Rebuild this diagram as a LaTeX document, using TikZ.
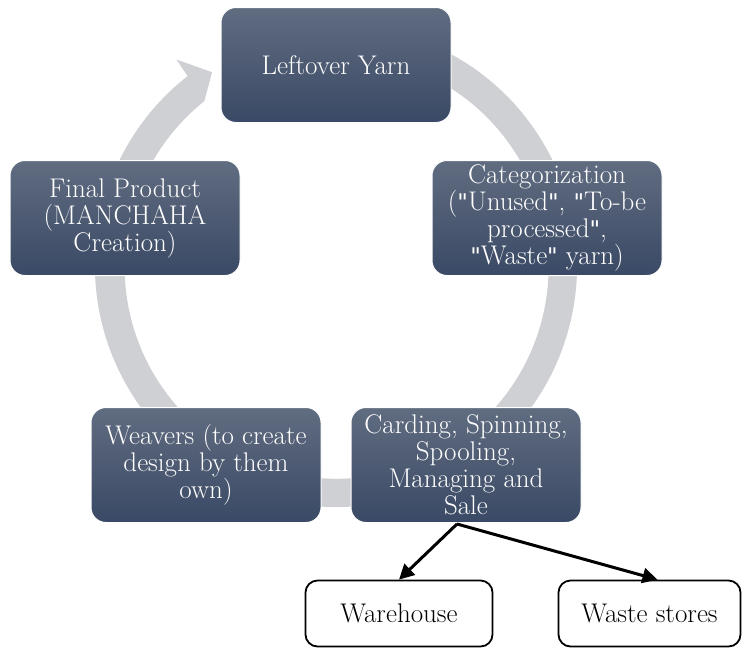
\documentclass[tikz,border=0pt]{standalone}
\usepackage{fontspec}
\newfontfamily\qf{DejaVu Sans}
\usetikzlibrary{calc,arrows.meta}
\definecolor{ringc}{RGB}{207,208,212}
\definecolor{btop}{RGB}{96,108,128}
\definecolor{bbot}{RGB}{58,73,101}
\newcommand{\qq}{{\qf\fontsize{23}{27}\selectfont\symbol{34}}}
\begin{document}
\begin{tikzpicture}[x=1pt,y=1pt,
  cyc/.style={rounded corners=15pt, top color=btop, bottom color=bbot, draw=white, line width=1pt,
    minimum width=230pt, minimum height=115pt, inner sep=0pt, align=center, text=white,
    font=\rmfamily\fontsize{27}{27}\selectfont},
  outbox/.style={rounded corners=12pt, draw=black, line width=1.8pt, fill=white,
    minimum height=66pt, inner sep=0pt, font=\rmfamily\fontsize{27}{27}\selectfont},
  conn/.style={line width=3pt, -{Triangle[length=15pt,width=15pt]}}]
\useasboundingbox (0,0) rectangle (743,-648);
\coordinate (C) at (336,-266);
% continuous cycle ring with arrowhead
\fill[ringc] ($(C)+(75:241)$) arc[start angle=75, end angle=-232, radius=241]
  -- ($(C)+(127.7:261)$) -- ($(C)+(122.6:230)$) -- ($(C)+(128.6:211)$)
  arc[start angle=-231.4, end angle=75, radius=212] -- cycle;
% cycle nodes
\node[cyc] (top) at (336,-65) {Leftover Yarn};
\node[cyc] (cat) at (547,-218) {Categorization\\(\qq Unused\qq, \qq To-be\\processed\qq,\\\qq Waste\qq{} yarn)};
\node[cyc] (card) at (466,-465) {Carding, Spinning,\\Spooling,\\Managing and\\Sale};
\node[cyc] (weav) at (206,-465) {Weavers (to create\\design by them\\own)};
\node[cyc] (fin) at (125,-218) {Final Product\\(MANCHAHA\\Creation)};
% outputs
\node[outbox, minimum width=187pt] (wh) at (399,-613.5) {Warehouse};
\node[outbox, minimum width=182pt] (ws) at (649.5,-613.5) {Waste stores};
\coordinate (split) at (457,-524);
\draw[conn] (split) -- (wh.north);
\draw[conn] (split) -- ([xshift=8pt]ws.north);
\end{tikzpicture}
\end{document}
